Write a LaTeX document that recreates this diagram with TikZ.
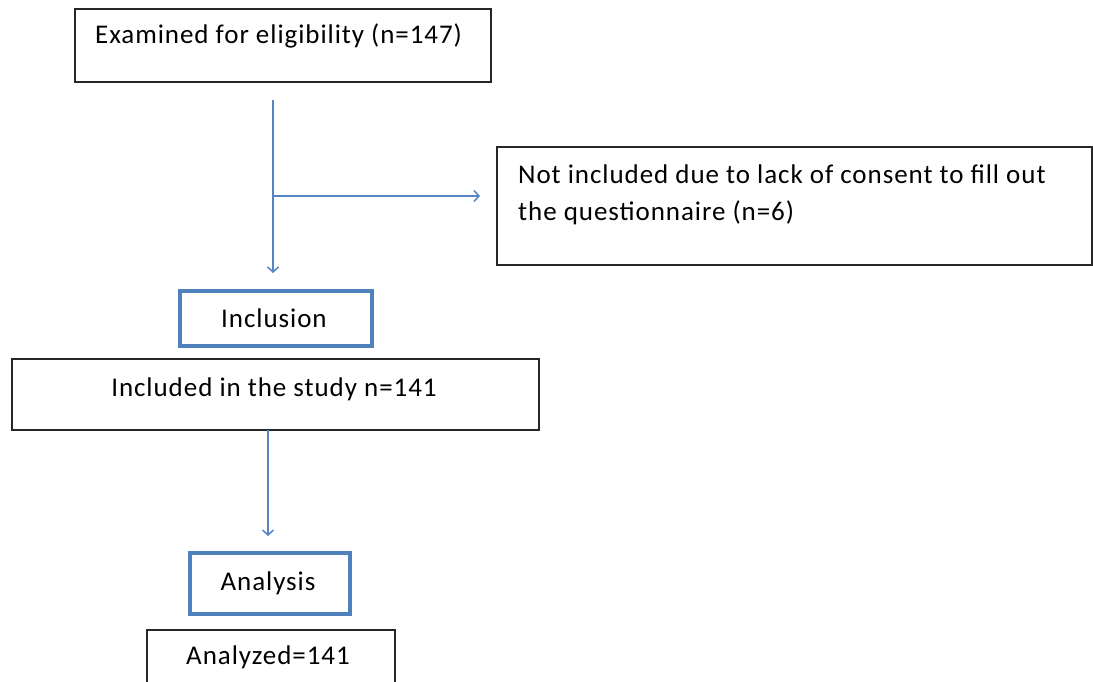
\documentclass[tikz,border=0pt]{standalone}
\usepackage{fontspec}
\setmainfont{Carlito}[LetterSpace=3.5]
\usetikzlibrary{arrows.meta}
\definecolor{hdblue}{HTML}{4F81BD}
\definecolor{arblue}{HTML}{5585C5}
\tikzset{
  box/.style={draw=black!85, line width=1.6pt, rectangle, inner sep=0pt, anchor=north west},
  hbox/.style={draw=hdblue, line width=3.6pt, rectangle, inner sep=0pt, anchor=north west},
  txt/.style={inner sep=0pt, font=\fontsize{27}{39}\selectfont, text=black},
  conn/.style={draw=arblue, line width=1.5pt, -{Straight Barb[length=5pt,width=11pt,line width=1.5pt]}}
}
\begin{document}
\begin{tikzpicture}[x=1pt,y=-1pt]
\useasboundingbox (0,0) rectangle (1093,682);
\clip (0,0) rectangle (1093,682);
% boxes
\node[box, minimum width=416pt, minimum height=73pt] (b1) at (74,8) {};
\node[txt, anchor=base west] (t1) at (95,44) {Examined for eligibility (n=147)};
\node[box, minimum width=595pt, minimum height=118pt] (b2) at (496,146) {};
\node[txt, anchor=base west] (t2a) at (518,183) {Not included due to lack of consent to fill out};
\node[txt, anchor=base west] (t2b) at (518,221) {the questionnaire (n=6)};
\node[hbox, minimum width=192pt, minimum height=55pt] (inc) at (178,289) {};
\node[txt, anchor=base] (t3) at (274,327) {Inclusion};
\node[box, minimum width=527pt, minimum height=71pt] (b3) at (11,358) {};
\node[txt, anchor=base] (t4) at (274,396) {Included in the study n=141};
\node[hbox, minimum width=160pt, minimum height=61pt] (ana) at (188,551) {};
\node[txt, anchor=base] (t5) at (268,590) {Analysis};
\node[box, minimum width=248pt, minimum height=80pt] (b4) at (146,629) {};
\node[txt, anchor=base] (t6) at (268,664) {Analyzed=141};
% connectors
\coordinate (s1) at (273,100);
\coordinate (br) at (273,196);
\draw[conn, shorten >=16pt] (s1) -- (s1 |- inc.north);
\draw[conn, shorten >=16pt] (br) -- (br -| b2.west);
\coordinate (s2) at (268,430);
\draw[conn, shorten >=15pt] (s2) -- (s2 |- ana.north);
\end{tikzpicture}
\end{document}
